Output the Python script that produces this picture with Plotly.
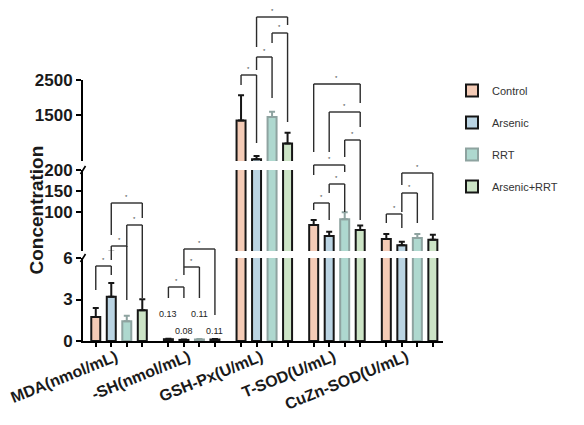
import plotly.graph_objects as go

# ---------------- data ----------------
categories = ["MDA(nmol/mL)", "-SH(nmol/mL)", "GSH-Px(U/mL)", "T-SOD(U/mL)", "CuZn-SOD(U/mL)"]
groups = ["Control", "Arsenic", "RRT", "Arsenic+RRT"]

control = [1.73, 0.13, 1350, 68, 35]
control_err = [0.65, 0.03, 720, 12, 12]
arsenic = [3.2, 0.08, 250, 42, 20]
arsenic_err = [1.0, 0.03, 95, 10, 8]
rrt = [1.43, 0.11, 1450, 82, 37]
rrt_err = [0.4, 0.03, 150, 17, 10]
combo = [2.22, 0.11, 700, 56, 33]
combo_err = [0.8, 0.03, 300, 11, 12]

sh_labels = ["0.13", "0.08", "0.11", "0.11"]

bottom_ticks = [0, 3, 6]
middle_ticks = [100, 150, 200]
top_ticks = [1500, 2500]

# significance brackets: (group, bar i, bar j, top_px, left_leg_bottom_px, right_leg_bottom_px)
brackets = [
    (0, 0, 1, 266, 290, 275), (0, 1, 2, 246, 260, 300), (0, 2, 3, 225, 247, 298), (0, 1, 3, 203, 235, 218),
    (1, 0, 1, 287, 298, 298), (1, 1, 2, 267, 275, 298), (1, 1, 3, 249, 267, 315),
    (2, 0, 1, 75, 85, 143), (2, 1, 2, 57, 70, 98), (2, 2, 3, 33, 43, 122), (2, 1, 3, 17, 47, 25),
    (3, 0, 1, 203, 210, 220), (3, 1, 2, 184, 193, 212), (3, 0, 2, 165, 175, 172),
    (3, 2, 3, 140, 157, 220), (3, 1, 3, 112, 152, 127), (3, 0, 3, 84, 152, 103),
    (4, 0, 1, 214, 223, 228), (4, 1, 2, 193, 212, 223), (4, 1, 3, 173, 185, 220),
]

# ---------------- style ----------------
fills = ["#f4cbb6", "#bad4e3", "#aed8cf", "#cce4c6"]
edges = ["#161616", "#161616", "#8ea3a0", "#161616"]
FONT = "Arial, Liberation Sans, sans-serif"

values = [control, arsenic, rrt, combo]
errors = [control_err, arsenic_err, rrt_err, combo_err]
xs = list(range(len(categories)))

# page is offset by the default 8px body margin
OFF = 8
W, H = 584 - OFF, 425 - OFF
ML, MR, MT, MB = 83 - OFF, 141, 80 - OFF, 84
PW, PH = 584 - 83 - MR, 425 - 80 - MB
BARGAP = 0.146
SLOT = (1 - BARGAP) / 4


def py(p):  # reference-page pixel -> paper fraction
    return (425 - MB - p) / PH


def px(p):
    return (p - 83) / PW


def barx(g, k):
    return g + (k - 1.5) * SLOT


fig = go.Figure()
for ax in ["y", "y2", "y3"]:
    for k, name in enumerate(groups):
        fig.add_trace(go.Bar(
            x=xs, y=values[k], name=name, xaxis="x", yaxis=ax,
            marker=dict(color=fills[k], line=dict(color=edges[k], width=2)),
            error_y=dict(type="data", array=errors[k], arrayminus=[0] * len(xs), symmetric=False,
                         color=edges[k], thickness=2, width=3),
            showlegend=(ax == "y"), legendgroup=name, hoverinfo="skip",
        ))

shapes = []
annotations = []
for g, i, j, top, lb, rb in brackets:
    xi, xj = barx(g, i), barx(g, j)
    ln = dict(color="#2b2b2b", width=1.4)
    shapes.append(dict(type="line", xref="x", yref="paper", x0=xi, x1=xj, y0=py(top), y1=py(top), line=ln))
    shapes.append(dict(type="line", xref="x", yref="paper", x0=xi, x1=xi, y0=py(top), y1=py(lb), line=ln))
    shapes.append(dict(type="line", xref="x", yref="paper", x0=xj, x1=xj, y0=py(top), y1=py(rb), line=ln))
    annotations.append(dict(text="*", xref="x", yref="paper", x=(xi + xj) / 2, y=py(top) + 0.004,
                            yanchor="bottom", showarrow=False, font=dict(size=6, color="#444", family=FONT)))

# axis break marks
for ypx in [258, 170]:
    shapes.append(dict(type="line", xref="paper", yref="paper", x0=px(80.5), x1=px(85.5),
                       y0=py(ypx + 4), y1=py(ypx - 4), line=dict(color="black", width=1.6)))

# -SH value labels
for k, t in enumerate(sh_labels):
    annotations.append(dict(text=t, xref="x", yref="y", x=barx(1, k), y=(1.95 if k % 2 == 0 else 0.75),
                            showarrow=False, font=dict(size=9, color="#222", family=FONT)))

annotations.append(dict(text="<b>Concentration</b>", xref="paper", yref="paper", x=px(23), y=py(210),
                        textangle=-90, showarrow=False, font=dict(size=19, color="#1a1a1a", family=FONT)))

yaxis_common = dict(showline=True, linewidth=2, linecolor="black", ticks="outside", ticklen=5,
                    tickwidth=2, tickcolor="black", showgrid=False, zeroline=False, automargin=False,
                    tickfont=dict(size=17, color="#1a1a1a", family=FONT, weight="bold"), anchor="x")

fig.update_layout(
    width=W, height=H, margin=dict(l=ML, r=MR, t=MT, b=MB, autoexpand=False),
    paper_bgcolor="white", plot_bgcolor="white",
    barmode="group", bargap=BARGAP, bargroupgap=0.42,
    xaxis=dict(range=[-0.496, 4.46], tickmode="array", tickvals=xs, ticktext=categories, tickangle=-22,
               ticks="", showline=True, linewidth=2, linecolor="black", showgrid=False, zeroline=False,
               ticklabelstandoff=-1, ticklabelshift=-3, automargin=False,
               tickfont=dict(size=16, color="#1a1a1a", family=FONT, weight="bold"),
               minor=dict(tickmode="array", tickvals=[barx(g, k) for g in xs for k in range(4)],
                          ticks="outside", ticklen=4, tickwidth=1.5, tickcolor="black")),
    yaxis=dict(domain=[0, py(258)], range=[0, 6], tickmode="array", tickvals=bottom_ticks, **yaxis_common),
    yaxis2=dict(domain=[py(251), py(170)], range=[6, 200], tickmode="array", tickvals=middle_ticks, **yaxis_common),
    yaxis3=dict(domain=[py(161), 1], range=[200, 2500], tickmode="array", tickvals=top_ticks, **yaxis_common),
    legend=dict(x=px(452), y=py(76), xanchor="left", yanchor="top", tracegroupgap=13,
                font=dict(size=11, color="#333", family=FONT), bgcolor="rgba(0,0,0,0)"),
    shapes=shapes, annotations=annotations, showlegend=True,
)

fig.write_html("out.html")
